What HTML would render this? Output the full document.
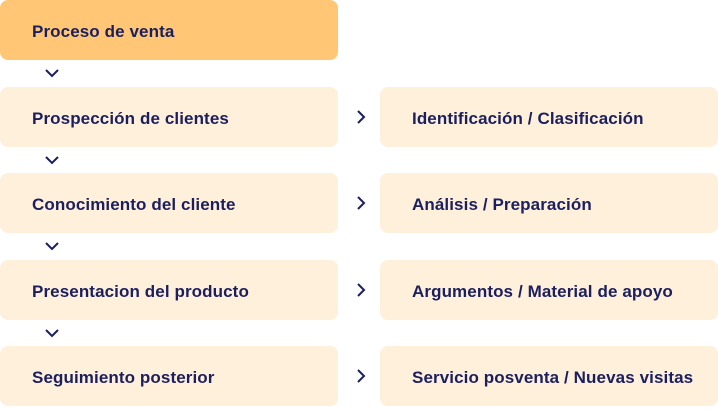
<!DOCTYPE html>
<html><head><style>
body{margin:0;width:718px;height:407px;background:#fff;position:relative;font-family:"Liberation Sans",sans-serif;overflow:hidden}
.b{position:absolute;height:60px;border-radius:8px;background:#fff0dc;color:#1b1f5e;font-weight:bold;font-size:17px;line-height:64px;box-sizing:border-box;padding-left:32px;letter-spacing:0.1px}
.l{left:0;width:338px}
.r{left:380px;width:338px}
.top{background:#ffc775}
svg{position:absolute}
</style></head><body>
<div class="b l top" style="top:0">Proceso de venta</div>
<div class="b l" style="top:87px">Prospección de clientes</div>
<div class="b l" style="top:173px">Conocimiento del cliente</div>
<div class="b l" style="top:260px">Presentacion del producto</div>
<div class="b l" style="top:346px">Seguimiento posterior</div>
<div class="b r" style="top:87px">Identificación / Clasificación</div>
<div class="b r" style="top:173px">Análisis / Preparación</div>
<div class="b r" style="top:260px">Argumentos / Material de apoyo</div>
<div class="b r" style="top:346px">Servicio posventa / Nuevas visitas</div>
<svg width="718" height="407" style="left:0;top:0">
<g fill="none" stroke="#1b1f5e" stroke-width="2">
<path d="M46 70l6 6 6-6"/><path d="M46 157l6 6 6-6"/><path d="M46 243l6 6 6-6"/><path d="M46 330l6 6 6-6"/>
<path d="M358 111l6 6-6 6"/><path d="M358 197l6 6-6 6"/><path d="M358 284l6 6-6 6"/><path d="M358 370l6 6-6 6"/>
</g></svg>
</body></html>
